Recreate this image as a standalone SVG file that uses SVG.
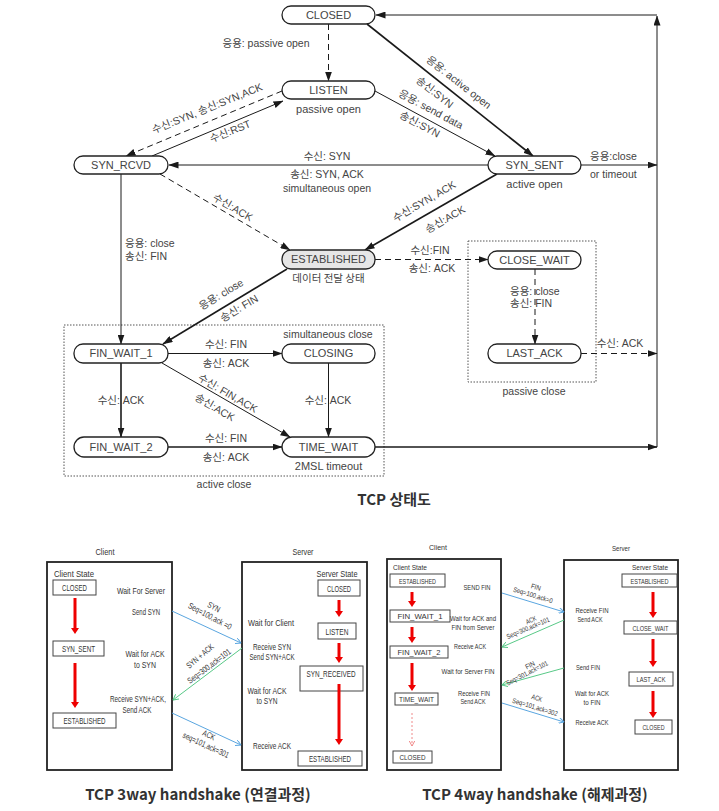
<svg xmlns="http://www.w3.org/2000/svg" width="719" height="811" viewBox="0 0 719 811">
  <style>
    .st rect { fill: #fff; stroke: #222; stroke-width: 1.3; }
    .st text { font-family: "Liberation Sans", Arial, sans-serif; font-size: 11px; fill: #444; text-anchor: middle; }
    .lb { font-family: "Liberation Sans", "Noto Sans CJK KR", sans-serif; font-size: 10.5px; fill: #444; text-anchor: middle; }
    .ls { text-anchor: start; }
    .ln { fill: none; stroke: #1a1a1a; stroke-width: 1; }
    .thk { stroke-width: 1.6; }
    .dsh { stroke-dasharray: 6 4; }
    .grp { fill: none; stroke: #555; stroke-width: 1; stroke-dasharray: 1.5 1.5; }
    .ttl { font-family: "Noto Sans CJK KR", "Liberation Sans", sans-serif; font-weight: bold; fill: #333; text-anchor: middle; }
    .hs text { font-family: "Liberation Sans", Arial, sans-serif; fill: #333; text-anchor: middle; }
    .hs .frame { fill: #fff; stroke: #222; stroke-width: 1.8; }
    .hs .sb { fill: #fff; stroke: #444; stroke-width: 1; }
    .s8 { font-size: 8.5px; }
    .s7 { font-size: 7.5px; }
    .s65 { font-size: 7px; }
    .red { fill: none; stroke: #ee0000; stroke-width: 3; }
    .blue { fill: none; stroke: #5aa6e0; stroke-width: 1; }
    .green { fill: none; stroke: #58c987; stroke-width: 1; }
    .pink { fill: none; stroke: #f08a8a; stroke-width: 1; stroke-dasharray: 2 2; }
  </style>
  <defs>
    <marker id="ah" viewBox="0 0 10 7" refX="9.5" refY="3.5" markerWidth="10" markerHeight="7" markerUnits="userSpaceOnUse" orient="auto">
      <path d="M0,0 L10,3.5 L0,7 z" fill="#1a1a1a"/>
    </marker>
    <marker id="rh" viewBox="0 0 6 8" refX="1" refY="4" markerWidth="6" markerHeight="8" markerUnits="userSpaceOnUse" orient="auto">
      <path d="M0,0 L6,4 L0,8 z" fill="#ee0000"/>
    </marker>
    <marker id="bh" viewBox="0 0 6 6" refX="5.5" refY="3" markerWidth="6" markerHeight="6" markerUnits="userSpaceOnUse" orient="auto">
      <path d="M0,0 L5.5,3 L0,6" fill="none" stroke="#5aa6e0" stroke-width="1"/>
    </marker>
    <marker id="gh" viewBox="0 0 6 6" refX="5.5" refY="3" markerWidth="6" markerHeight="6" markerUnits="userSpaceOnUse" orient="auto">
      <path d="M0,0 L5.5,3 L0,6" fill="none" stroke="#58c987" stroke-width="1"/>
    </marker>
    <marker id="ph" viewBox="0 0 6 6" refX="5.5" refY="3" markerWidth="6" markerHeight="6" markerUnits="userSpaceOnUse" orient="auto">
      <path d="M0,0 L5.5,3 L0,6" fill="none" stroke="#f08a8a" stroke-width="1"/>
    </marker>
  </defs>

  <rect width="719" height="811" fill="#fff"/>

  <!-- ===== TCP state diagram ===== -->
  <!-- region boxes -->
  <rect class="grp" x="468" y="241" width="128" height="141"/>
  <rect class="grp" x="64" y="325" width="320" height="151"/>

  <g id="edges">
    <path class="ln dsh" d="M328.5,24 V81" marker-end="url(#ah)"/>
    <path class="ln" d="M657,447 V16" marker-end="url(#ah)"/>
    <path class="ln" d="M657,15 H376" marker-end="url(#ah)"/>
    <path class="ln thk" d="M367,24 L533,156" marker-end="url(#ah)"/>
    <path class="ln" d="M375,91 L495,156" marker-end="url(#ah)"/>
    <path class="ln dsh" d="M282,91 L126,156" marker-end="url(#ah)"/>
    <path class="ln" d="M152,156 L283,101" marker-end="url(#ah)"/>
    <path class="ln" d="M488,165 H169" marker-end="url(#ah)"/>
    <path class="ln" d="M581,165 H657" marker-end="url(#ah)"/>
    <path class="ln dsh" d="M160,174 L290,250" marker-end="url(#ah)"/>
    <path class="ln thk" d="M497,174 L365,250" marker-end="url(#ah)"/>
    <path class="ln" d="M121,174 V344" marker-end="url(#ah)"/>
    <path class="ln thk" d="M287,269 L163,344" marker-end="url(#ah)"/>
    <path class="ln dsh" d="M375,259.5 H488" marker-end="url(#ah)"/>
    <path class="ln dsh" d="M535,269 V344" marker-end="url(#ah)"/>
    <path class="ln dsh" d="M581,353.5 H657" marker-end="url(#ah)"/>
    <path class="ln" d="M168,353.5 H282" marker-end="url(#ah)"/>
    <path class="ln thk" d="M121,363 V437" marker-end="url(#ah)"/>
    <path class="ln" d="M162,363 L290,437" marker-end="url(#ah)"/>
    <path class="ln" d="M328.5,363 V437" marker-end="url(#ah)"/>
    <path class="ln thk" d="M168,447 H282" marker-end="url(#ah)"/>
    <path class="ln thk" d="M375,447 H657" marker-end="url(#ah)"/>
  </g>

  <g id="st-closed" class="st"><rect x="282" y="6" width="93" height="18" rx="9"/><text x="328.5" y="19">CLOSED</text></g>
  <g id="st-listen" class="st"><rect x="282" y="81" width="93" height="18" rx="9"/><text x="328.5" y="94">LISTEN</text><text x="328.5" y="113">passive open</text></g>
  <g id="st-synrcvd" class="st"><rect x="74" y="156" width="94" height="18" rx="9"/><text x="121" y="169">SYN_RCVD</text></g>
  <g id="st-synsent" class="st"><rect x="488" y="156" width="93" height="18" rx="9"/><text x="534.5" y="169">SYN_SENT</text><text x="534.5" y="188">active open</text></g>
  <g id="st-established" class="st"><rect x="282" y="250" width="93" height="19" rx="9" style="fill:#e6e6e6"/><text x="328.5" y="263">ESTABLISHED</text><text x="328.5" y="282" style="font-family:'Noto Sans CJK KR',sans-serif;font-size:10.5px">데이터 전달 상태</text></g>
  <g id="st-closewait" class="st"><rect x="488" y="251" width="93" height="18" rx="9"/><text x="534.5" y="264">CLOSE_WAIT</text></g>
  <g id="st-lastack" class="st"><rect x="488" y="344" width="93" height="19" rx="9"/><text x="534.5" y="357">LAST_ACK</text></g>
  <g id="st-finwait1" class="st"><rect x="74" y="344" width="94" height="19" rx="9"/><text x="121" y="357">FIN_WAIT_1</text></g>
  <g id="st-closing" class="st"><rect x="282" y="344" width="93" height="19" rx="9"/><text x="328.5" y="357">CLOSING</text></g>
  <g id="st-finwait2" class="st"><rect x="74" y="437" width="94" height="20" rx="10"/><text x="121" y="451">FIN_WAIT_2</text></g>
  <g id="st-timewait" class="st"><rect x="282" y="437" width="93" height="20" rx="10"/><text x="328.5" y="451">TIME_WAIT</text><text x="328.5" y="470">2MSL timeout</text></g>

  <g id="edge-labels" class="lb">
    <text x="266" y="47">응용: passive open</text>
    <text transform="translate(207,108) rotate(-22)" y="4">수신:SYN, 송신:SYN,ACK</text>
    <text transform="translate(230,131) rotate(-22)" y="4">수신:RST</text>
    <text transform="translate(459,82) rotate(38)" y="4">응용: active open</text>
    <text transform="translate(435,92) rotate(38)" y="4">송신:SYN</text>
    <text transform="translate(431,109) rotate(28)" y="4">응용: send data</text>
    <text transform="translate(420,124) rotate(28)" y="4">송신:SYN</text>
    <text x="327" y="160">수신: SYN</text>
    <text x="327" y="178">송신: SYN, ACK</text>
    <text x="327" y="192">simultaneous open</text>
    <text class="ls" x="590" y="160">응용:close</text>
    <text class="ls" x="590" y="178">or timeout</text>
    <text transform="translate(233,207) rotate(30)" y="4">수신:ACK</text>
    <text transform="translate(424,201) rotate(-30)" y="4">수신:SYN, ACK</text>
    <text transform="translate(445,219) rotate(-30)" y="4">송신:ACK</text>
    <text class="ls" x="125" y="247">응용: close</text>
    <text class="ls" x="125" y="260">송신: FIN</text>
    <text transform="translate(221,294) rotate(-31)" y="4">응용: close</text>
    <text transform="translate(239,308) rotate(-31)" y="4">송신: FIN</text>
    <text x="430" y="254">수신:FIN</text>
    <text x="432" y="272">송신: ACK</text>
    <text class="ls" x="510" y="295">응용: close</text>
    <text class="ls" x="510" y="307">송신: FIN</text>
    <text x="534" y="395">passive close</text>
    <text x="620" y="347">수신: ACK</text>
    <text x="328" y="338">simultaneous close</text>
    <text x="226" y="348">수신: FIN</text>
    <text x="226" y="367">송신: ACK</text>
    <text x="121" y="404">수신: ACK</text>
    <text transform="translate(228,393) rotate(30)" y="4">수신: FIN,ACK</text>
    <text transform="translate(215,407) rotate(30)" y="4">송신:ACK</text>
    <text x="328" y="404">수신: ACK</text>
    <text x="226" y="442">수신: FIN</text>
    <text x="226" y="461">송신: ACK</text>
    <text x="224" y="488">active close</text>
  </g>
  <text class="ttl" x="394" y="505" font-size="15">TCP 상태도</text>

  <!-- ===== 3-way handshake ===== -->
  <g id="hs3" class="hs">
    <g id="hs3-client">
      <text class="s8" x="105" y="555" textLength="19" lengthAdjust="spacingAndGlyphs">Client</text>
      <rect class="frame" x="47" y="562" width="125" height="208"/>
      <text class="s8" x="74" y="577" style="font-size:9.5px" textLength="40" lengthAdjust="spacingAndGlyphs">Client State</text>
      <rect class="sb" x="53" y="580" width="43" height="15"/><text class="s8" x="74.5" y="591" textLength="25" lengthAdjust="spacingAndGlyphs">CLOSED</text>
      <rect class="sb" x="53" y="641" width="51" height="15"/><text class="s8" x="78.5" y="652" textLength="33" lengthAdjust="spacingAndGlyphs">SYN_SENT</text>
      <rect class="sb" x="53" y="713" width="63" height="15"/><text class="s8" x="84.5" y="724" textLength="42" lengthAdjust="spacingAndGlyphs">ESTABLISHED</text>
      <path class="red" d="M75,598 V629" marker-end="url(#rh)"/>
      <path class="red" d="M75,663 V703" marker-end="url(#rh)"/>
      <text class="s8" x="141" y="594" textLength="48" lengthAdjust="spacingAndGlyphs">Wait For Server</text>
      <text class="s8" x="146" y="615" textLength="28" lengthAdjust="spacingAndGlyphs">Send SYN</text>
      <text class="s8" x="145" y="657" textLength="39" lengthAdjust="spacingAndGlyphs">Wait for ACK</text>
      <text class="s8" x="145" y="668" textLength="22" lengthAdjust="spacingAndGlyphs">to SYN</text>
      <text class="s8" x="138" y="702" textLength="56" lengthAdjust="spacingAndGlyphs">Receive SYN+ACK,</text>
      <text class="s8" x="137" y="713" textLength="29" lengthAdjust="spacingAndGlyphs">Send ACK</text>
    </g>
    <g id="hs3-server">
      <text class="s8" x="303" y="555" textLength="21" lengthAdjust="spacingAndGlyphs">Server</text>
      <rect class="frame" x="242" y="562" width="125" height="208"/>
      <text class="s8" x="337" y="577" style="font-size:9.5px" textLength="41" lengthAdjust="spacingAndGlyphs">Server State</text>
      <rect class="sb" x="318" y="580" width="42" height="16"/><text class="s8" x="339" y="591.5" textLength="24" lengthAdjust="spacingAndGlyphs">CLOSED</text>
      <rect class="sb" x="318" y="623" width="38" height="16"/><text class="s8" x="337" y="634.5" textLength="23" lengthAdjust="spacingAndGlyphs">LISTEN</text>
      <rect class="sb" x="300" y="666" width="63" height="25"/><text class="s8" x="331" y="676.5" textLength="49" lengthAdjust="spacingAndGlyphs">SYN_RECEIVED</text>
      <rect class="sb" x="298" y="751" width="64" height="15"/><text class="s8" x="330" y="762" textLength="42" lengthAdjust="spacingAndGlyphs">ESTABLISHED</text>
      <path class="red" d="M339,600 V612" marker-end="url(#rh)"/>
      <path class="red" d="M339,643 V658" marker-end="url(#rh)"/>
      <path class="red" d="M339,684 V740" marker-end="url(#rh)"/>
      <text class="s8" x="271" y="626" textLength="46" lengthAdjust="spacingAndGlyphs">Wait for Client</text>
      <text class="s8" x="272" y="650" textLength="38" lengthAdjust="spacingAndGlyphs">Receive SYN</text>
      <text class="s8" x="272" y="660" textLength="45" lengthAdjust="spacingAndGlyphs">Send SYN+ACK</text>
      <text class="s8" x="267" y="694" textLength="39" lengthAdjust="spacingAndGlyphs">Wait for ACK</text>
      <text class="s8" x="267" y="704" textLength="21" lengthAdjust="spacingAndGlyphs">to SYN</text>
      <text class="s8" x="272" y="749" textLength="38" lengthAdjust="spacingAndGlyphs">Receive ACK</text>
    </g>
    <g id="hs3-msgs">
      <path class="blue" d="M172,611 L241,643" marker-end="url(#bh)"/>
      <path class="green" d="M242,648 L173,700" marker-end="url(#gh)"/>
      <path class="blue" d="M172,713 L241,745" marker-end="url(#bh)"/>
      <text class="s8" transform="translate(214,607) rotate(28)" y="3" textLength="13" lengthAdjust="spacingAndGlyphs">SYN</text>
      <text class="s8" transform="translate(210,616) rotate(28)" y="3" textLength="48" lengthAdjust="spacingAndGlyphs">Seq=100,ack =0</text>
      <text class="s8" transform="translate(200,656) rotate(-40)" y="3" textLength="33" lengthAdjust="spacingAndGlyphs">SYN + ACK</text>
      <text class="s8" transform="translate(209,666) rotate(-37)" y="3" textLength="52" lengthAdjust="spacingAndGlyphs">Seq=300,ack=101</text>
      <text class="s8" transform="translate(209,735) rotate(25)" y="3" textLength="13" lengthAdjust="spacingAndGlyphs">ACK</text>
      <text class="s8" transform="translate(206,745) rotate(25)" y="3" textLength="50" lengthAdjust="spacingAndGlyphs">seq=101,ack=301</text>
    </g>
  </g>

  <!-- ===== 4-way handshake ===== -->
  <g id="hs4" class="hs">
    <g id="hs4-client">
      <text class="s7" x="438" y="550" textLength="18" lengthAdjust="spacingAndGlyphs">Client</text>
      <rect class="frame" x="387" y="559" width="114" height="211"/>
      <text class="s7" x="393" y="570" style="text-anchor:start;font-size:8px" textLength="34" lengthAdjust="spacingAndGlyphs">Client State</text>
      <rect class="sb" x="390" y="574" width="55" height="13"/><text class="s7" x="417.5" y="583.5" textLength="37" lengthAdjust="spacingAndGlyphs">ESTABLISHED</text>
      <rect class="sb" x="390" y="610" width="60" height="12"/><text class="s7" x="420" y="619" textLength="45" lengthAdjust="spacingAndGlyphs">FIN_WAIT_1</text>
      <rect class="sb" x="390" y="646" width="58" height="12"/><text class="s7" x="419" y="655" textLength="43" lengthAdjust="spacingAndGlyphs">FIN_WAIT_2</text>
      <rect class="sb" x="395" y="693" width="43" height="12"/><text class="s7" x="416.5" y="702" textLength="35" lengthAdjust="spacingAndGlyphs">TIME_WAIT</text>
      <rect class="sb" x="393" y="751" width="39" height="12"/><text class="s7" x="412.5" y="760" textLength="26" lengthAdjust="spacingAndGlyphs">CLOSED</text>
      <path class="red" d="M412,592 V602" marker-end="url(#rh)"/>
      <path class="red" d="M412,627 V638" marker-end="url(#rh)"/>
      <path class="red" d="M412,663 V686" marker-end="url(#rh)"/>
      <path class="pink" d="M412,713 V746" marker-end="url(#ph)"/>
      <text class="s7" x="477" y="590" textLength="27" lengthAdjust="spacingAndGlyphs">SEND FIN</text>
      <text class="s7" x="473" y="621" textLength="46" lengthAdjust="spacingAndGlyphs">Wait for ACK and</text>
      <text class="s7" x="473" y="630" textLength="43" lengthAdjust="spacingAndGlyphs">FIN from Server</text>
      <text class="s7" x="470" y="649" textLength="32" lengthAdjust="spacingAndGlyphs">Receive ACK</text>
      <text class="s7" x="468" y="674" textLength="53" lengthAdjust="spacingAndGlyphs">Wait for Server FIN</text>
      <text class="s7" x="474" y="696" textLength="32" lengthAdjust="spacingAndGlyphs">Receive FIN</text>
      <text class="s7" x="473" y="704" textLength="25" lengthAdjust="spacingAndGlyphs">Send ACK</text>
    </g>
    <g id="hs4-server">
      <text class="s7" x="621" y="551" textLength="18" lengthAdjust="spacingAndGlyphs">Server</text>
      <rect class="frame" x="564" y="560" width="114" height="210"/>
      <text class="s7" x="650" y="570" style="font-size:8px" textLength="36" lengthAdjust="spacingAndGlyphs">Server State</text>
      <rect class="sb" x="622" y="574" width="55" height="13"/><text class="s7" x="649.5" y="583.5" textLength="38" lengthAdjust="spacingAndGlyphs">ESTABLISHED</text>
      <rect class="sb" x="624" y="621" width="53" height="13"/><text class="s7" x="650.5" y="630.5" textLength="36" lengthAdjust="spacingAndGlyphs">CLOSE_WAIT</text>
      <rect class="sb" x="629" y="672" width="44" height="14"/><text class="s7" x="651" y="682" textLength="29" lengthAdjust="spacingAndGlyphs">LAST_ACK</text>
      <rect class="sb" x="635" y="720" width="37" height="14"/><text class="s7" x="653.5" y="730" textLength="22" lengthAdjust="spacingAndGlyphs">CLOSED</text>
      <path class="red" d="M653,592 V613" marker-end="url(#rh)"/>
      <path class="red" d="M653,639 V662" marker-end="url(#rh)"/>
      <path class="red" d="M653,691 V713" marker-end="url(#rh)"/>
      <text class="s7" x="592" y="613" textLength="33" lengthAdjust="spacingAndGlyphs">Receive FIN</text>
      <text class="s7" x="590" y="622" textLength="25" lengthAdjust="spacingAndGlyphs">Send ACK</text>
      <text class="s7" x="588" y="670" textLength="24" lengthAdjust="spacingAndGlyphs">Send FIN</text>
      <text class="s7" x="592" y="696" textLength="34" lengthAdjust="spacingAndGlyphs">Wait for ACK</text>
      <text class="s7" x="592" y="705" textLength="17" lengthAdjust="spacingAndGlyphs">to FIN</text>
      <text class="s7" x="592" y="725" textLength="33" lengthAdjust="spacingAndGlyphs">Receive ACK</text>
    </g>
    <g id="hs4-msgs">
      <path class="blue" d="M502,593 L564,612" marker-end="url(#bh)"/>
      <path class="green" d="M564,620 L502,647" marker-end="url(#gh)"/>
      <path class="green" d="M564,668 L502,685" marker-end="url(#gh)"/>
      <path class="blue" d="M502,703 L564,722" marker-end="url(#bh)"/>
      <text class="s65" transform="translate(536,587) rotate(17)" y="2.5" textLength="10" lengthAdjust="spacingAndGlyphs">FIN</text>
      <text class="s65" transform="translate(533,595) rotate(17)" y="2.5" textLength="41" lengthAdjust="spacingAndGlyphs">Seq=100,ack=0</text>
      <text class="s65" transform="translate(531,620) rotate(-23)" y="2.5" textLength="11" lengthAdjust="spacingAndGlyphs">ACK</text>
      <text class="s65" transform="translate(528,628) rotate(-23)" y="2.5" textLength="46" lengthAdjust="spacingAndGlyphs">Seq=300,ack=101</text>
      <text class="s65" transform="translate(530,665) rotate(-27)" y="2.5" textLength="10" lengthAdjust="spacingAndGlyphs">FIN</text>
      <text class="s65" transform="translate(527,673) rotate(-27)" y="2.5" textLength="46" lengthAdjust="spacingAndGlyphs">Seq=301,ack=101</text>
      <text class="s65" transform="translate(537,698) rotate(17)" y="2.5" textLength="11" lengthAdjust="spacingAndGlyphs">ACK</text>
      <text class="s65" transform="translate(535,707) rotate(17)" y="2.5" textLength="47" lengthAdjust="spacingAndGlyphs">Seq=101,ack=302</text>
    </g>
  </g>

  <text class="ttl" x="198" y="800" font-size="15">TCP 3way handshake (연결과정)</text>
  <text class="ttl" x="535" y="800" font-size="15">TCP 4way handshake (해제과정)</text>
</svg>
